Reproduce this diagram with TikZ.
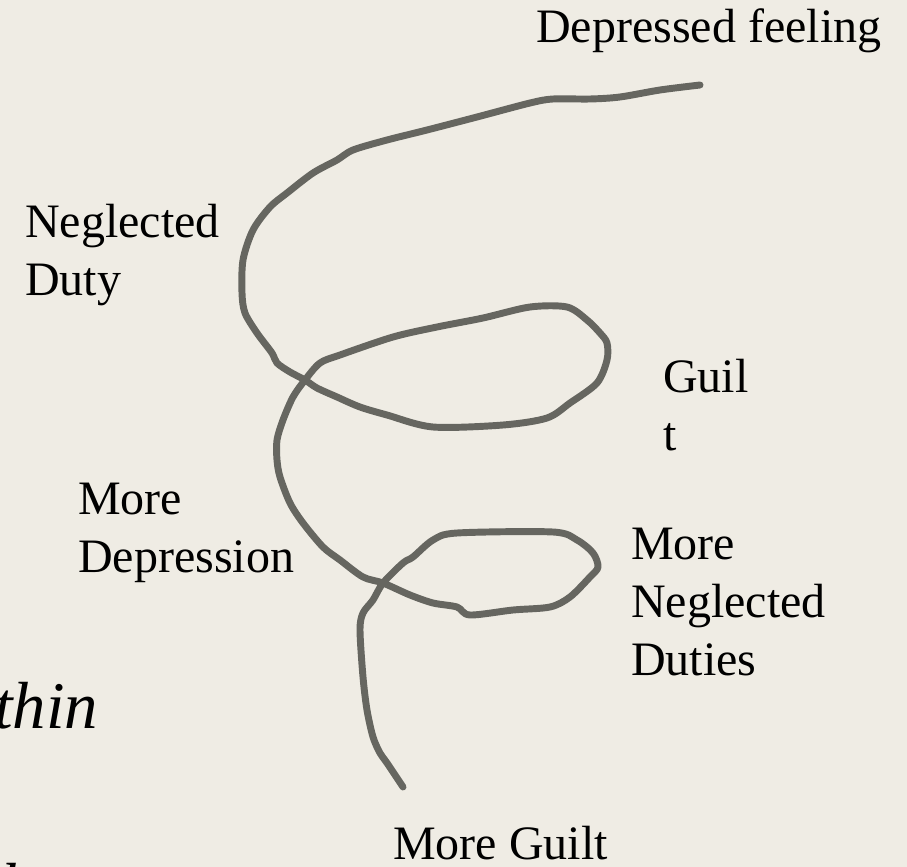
\documentclass[tikz,border=0pt]{standalone}
\usepackage{fontspec}
\setmainfont{Liberation Serif}
\definecolor{paper}{RGB}{239,236,228}
\definecolor{pencil}{RGB}{102,102,96}
\tikzset{
  lbl/.style={anchor=base west, inner sep=0pt, align=left,
    font=\fontsize{36}{43.5}\selectfont},
  big/.style={anchor=base west, inner sep=0pt,
    font=\fontsize{50}{60}\selectfont\itshape},
  scrawl/.style={pencil, line width=5.2pt, line cap=round, line join=round}
}
\begin{document}
\begin{tikzpicture}[x=0.75pt, y=-0.75pt]
  \fill[paper] (0,0) rectangle (907,867);
  \useasboundingbox (0,0) rectangle (907,867);
  \draw[scrawl] plot[smooth, tension=0.5] coordinates {
    (700,85) (660,90) (620,97) (590,99) (553,99) (530,103) (477,117)
    (427,130) (387,140) (353,150) (337,160) (313,173) (287,193) (270,207)
    (253,230) (243,260) (242,293) (245,313) (257,333) (272,353) (277,363)
    (290,372) (305,380) (317,388) (337,397) (360,407) (387,415) (433,427)
    (503,425) (547,418) (570,403) (597,383) (607,360) (607,343) (600,333)
    (587,320) (567,307) (530,307) (483,318) (437,327) (393,337) (340,355)
    (320,363) (305,380) (293,397) (283,420) (277,440) (277,460) (280,477)
    (290,503) (303,523) (323,547) (340,560) (363,577) (383,583) (410,595)
    (433,603) (457,607) (470,615) (513,610) (550,607) (570,597) (590,577)
    (598,567) (593,553) (577,540) (553,532) (457,533) (433,540) (413,557)
    (403,563) (383,583) (373,600) (363,613) (360,630) (363,677) (367,710)
    (373,737) (380,753) (387,763) (403,787)};
  \node[lbl] (feel) at (536,43) {Depressed feeling};
  \node[lbl] (duty) at (25,295) {Neglected\\Duty};
  \node[lbl] (guilt) at (663,450) {Guil\\t};
  \node[lbl] (moredep) at (78,572) {More\\Depression};
  \node[lbl] (moreduty) at (631,675) {More\\Neglected\\Duties};
  \node[lbl] (moreguilt) at (393,859) {More Guilt};
  \node[big] (thin) at (-6,728) {thin};
  \node[big] (hcut) at (0,909) {h};
\end{tikzpicture}
\end{document}
